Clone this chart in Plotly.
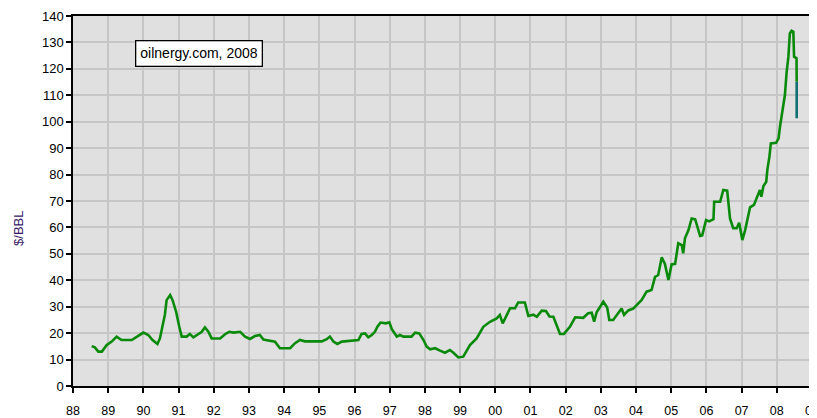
import plotly.graph_objects as go

# decimal-year dates and $/BBL values
dates = [
    1988.53, 1988.62, 1988.72, 1988.82, 1988.96, 1989.10, 1989.24, 1989.38, 1989.67, 1989.81,
    1990.00, 1990.14, 1990.26, 1990.40, 1990.47, 1990.52, 1990.61, 1990.66, 1990.76, 1990.83,
    1990.93, 1991.02, 1991.09, 1991.23, 1991.32, 1991.42, 1991.56, 1991.66, 1991.75, 1991.85,
    1991.94, 1992.18, 1992.32, 1992.44, 1992.56, 1992.75, 1992.89, 1993.03, 1993.17, 1993.31,
    1993.41, 1993.60, 1993.74, 1993.88, 1994.17, 1994.31, 1994.45, 1994.59, 1995.07, 1995.21,
    1995.30, 1995.40, 1995.51, 1995.64, 1995.87, 1996.11, 1996.20, 1996.30, 1996.39, 1996.49,
    1996.58, 1996.65, 1996.74, 1996.89, 1996.99, 1997.06, 1997.20, 1997.29, 1997.39, 1997.62,
    1997.72, 1997.84, 1997.96, 1998.05, 1998.15, 1998.29, 1998.43, 1998.57, 1998.71, 1998.81,
    1998.95, 1999.09, 1999.28, 1999.47, 1999.66, 1999.85, 2000.04, 2000.13, 2000.21, 2000.32,
    2000.42, 2000.56, 2000.65, 2000.84, 2000.94, 2001.08, 2001.18, 2001.32, 2001.44, 2001.54,
    2001.65, 2001.84, 2001.95, 2002.12, 2002.27, 2002.50, 2002.64, 2002.74, 2002.81, 2002.88,
    2003.07, 2003.18, 2003.24, 2003.35, 2003.50, 2003.59, 2003.66, 2003.78, 2003.92, 2004.06,
    2004.16, 2004.30, 2004.44, 2004.54, 2004.63, 2004.73, 2004.82, 2004.92, 2005.01, 2005.11,
    2005.20, 2005.30, 2005.34, 2005.39, 2005.49, 2005.58, 2005.68, 2005.82, 2005.88, 2005.99,
    2006.08, 2006.20, 2006.22, 2006.39, 2006.48, 2006.59, 2006.67, 2006.76, 2006.86, 2006.93,
    2007.02, 2007.10, 2007.19, 2007.24, 2007.35, 2007.45, 2007.52, 2007.56, 2007.62, 2007.70,
    2007.73, 2007.79, 2007.83, 2007.98, 2008.05, 2008.09, 2008.14, 2008.18, 2008.23, 2008.28,
    2008.33, 2008.37, 2008.42, 2008.47, 2008.49, 2008.56, 2008.565,
]
prices = [
    15.1, 14.6, 13.0, 13.0, 15.5, 16.8, 18.7, 17.4, 17.4, 18.7,
    20.2, 19.3, 17.4, 15.9, 18.0, 21.2, 26.9, 32.5, 34.4, 32.5,
    28.1, 22.4, 18.7, 18.7, 19.7, 18.4, 19.7, 20.5, 22.2, 20.5,
    18.0, 18.0, 19.6, 20.5, 20.2, 20.5, 18.7, 17.8, 18.9, 19.3,
    17.6, 17.1, 16.8, 14.3, 14.3, 16.2, 17.4, 16.9, 16.9, 17.7,
    18.7, 16.8, 15.9, 16.8, 17.0, 17.4, 19.7, 19.9, 18.4, 19.3,
    20.5, 22.4, 24.0, 23.7, 24.1, 21.5, 18.7, 19.3, 18.7, 18.7,
    20.2, 19.9, 17.4, 14.9, 13.9, 14.3, 13.4, 12.6, 13.6, 12.6,
    10.8, 11.1, 15.5, 18.0, 22.4, 24.3, 25.6, 26.9, 23.7, 26.9,
    29.4, 29.4, 31.6, 31.6, 26.5, 27.0, 26.2, 28.5, 28.4, 26.3,
    26.2, 19.7, 19.7, 22.4, 26.0, 25.8, 27.5, 27.7, 24.3, 27.9,
    31.9, 29.7, 25.0, 25.0, 27.7, 29.3, 26.9, 28.6, 29.3, 31.3,
    32.6, 35.7, 36.3, 41.3, 42.0, 48.7, 46.2, 40.1, 46.0, 46.2,
    54.0, 53.3, 50.2, 55.9, 59.0, 63.4, 63.1, 56.8, 57.0, 62.8,
    62.3, 63.1, 69.7, 69.7, 74.2, 73.9, 63.4, 59.7, 59.7, 61.8,
    55.2, 59.0, 64.1, 67.6, 68.5, 71.6, 74.2, 71.6, 75.7, 77.3,
    81.7, 86.8, 91.8, 92.0, 93.7, 98.1, 102.5, 105.7, 110.1, 118.9,
    124.6, 133.4, 134.4, 134.0, 124.6, 124.0, 115.1,
]
# latest (weekly) tail drawn in teal
recent_dates = [2008.565, 2008.565]
recent_prices = [115.1, 101.3]

year_ticks = list(range(1988, 2010))
year_labels = ["88", "89", "90", "91", "92", "93", "94", "95", "96", "97", "98",
               "99", "00", "01", "02", "03", "04", "05", "06", "07", "08", "09"]
price_ticks = list(range(0, 150, 10))

fig = go.Figure()
fig.add_trace(go.Scatter(x=dates, y=prices, mode="lines",
                         line=dict(color="#0a8a0a", width=2.6), showlegend=False))
fig.add_trace(go.Scatter(x=recent_dates, y=recent_prices, mode="lines",
                         line=dict(color="#0e7070", width=2.6), showlegend=False))

# the page body adds an 8px offset, so the figure is sized to the remaining window
fig.update_layout(
    width=809, height=410,
    margin=dict(l=65, r=5, t=8, b=32, autoexpand=False),
    paper_bgcolor="white",
    plot_bgcolor="#e0e0e0",
    font=dict(family="Liberation Sans, Arial, sans-serif", size=13, color="black"),
    xaxis=dict(range=[1988, 2009], tickvals=year_ticks, ticktext=year_labels,
               showgrid=True, gridcolor="#c6c6c6", gridwidth=1.5,
               showline=True, linecolor="black", linewidth=1.5, mirror=True,
               ticks="outside", ticklen=5, tickcolor="black", tickwidth=1.5,
               ticklabelstandoff=7, ticklabeloverflow="allow", automargin=False,
               tickfont=dict(size=12.5),
               zeroline=False, fixedrange=True),
    yaxis=dict(range=[0, 140], tickvals=price_ticks,
               showgrid=True, gridcolor="#c6c6c6", gridwidth=1.5,
               showline=True, linecolor="black", linewidth=1.5, mirror=True,
               ticks="outside", ticklen=5, tickcolor="black", tickwidth=1.5,
               automargin=False, zeroline=False, fixedrange=True),
    annotations=[
        dict(text="oilnergy.com, 2008", xref="paper", yref="paper",
             x=0.170, y=0.899, xanchor="center", yanchor="middle",
             showarrow=False, bgcolor="white", bordercolor="black",
             borderwidth=1.3, borderpad=4,
             font=dict(size=14, color="black")),
        dict(text="$/BBL", xref="paper", yref="paper", x=-0.0745, y=0.427,
             xanchor="center", yanchor="middle", textangle=-90, showarrow=False,
             font=dict(size=13, color="#3a1a6a")),
    ],
)

fig.write_html("out.html")
